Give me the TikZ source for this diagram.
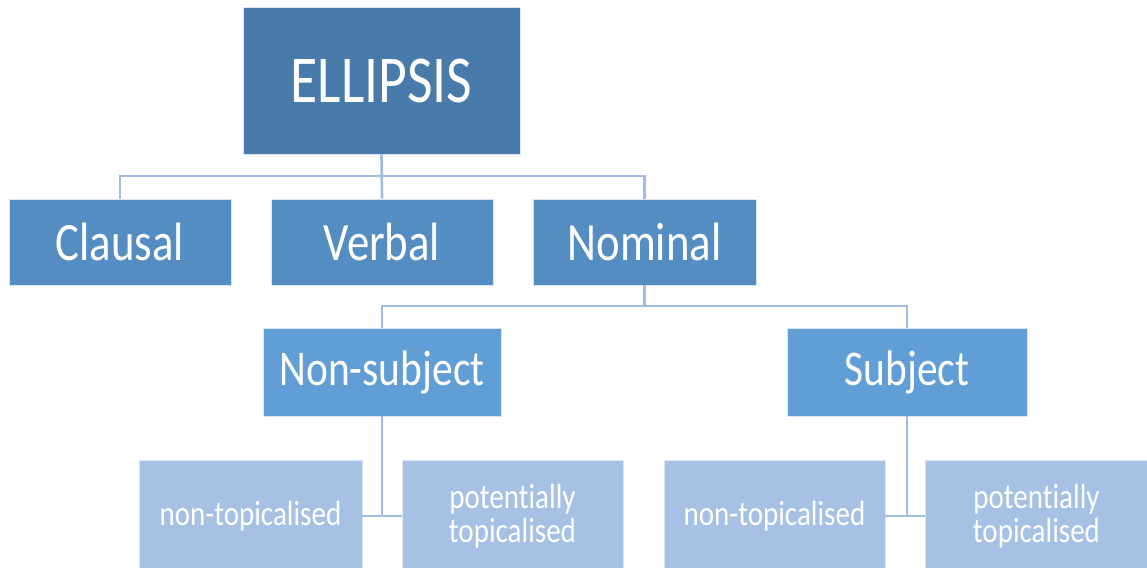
\documentclass[tikz,border=0pt]{standalone}
\usepackage{fontspec}
\setmainfont{Carlito}[FakeStretch=0.83, Ligatures={NoCommon}]
\definecolor{cA}{HTML}{487BA9}
\definecolor{cB}{HTML}{538DC2}
\definecolor{cC}{HTML}{629ED6}
\definecolor{cD}{HTML}{A6C1E4}
\definecolor{cL}{HTML}{9DBDE3}
\tikzset{
  box/.style={rectangle, inner sep=0pt, text=white, draw=white!60!cL, line width=0.8pt, align=center},
  lvlA/.style={box, fill=cA, font=\fontsize{67}{70}\selectfont},
  lvlB/.style={box, fill=cB, font=\fontsize{54}{58}\selectfont},
  lvlC/.style={box, fill=cC, font=\fontsize{50}{54}\selectfont},
  lvlD/.style={box, fill=cD, font=\fontsize{35}{34}\selectfont},
  conn/.style={draw=cL, line width=2.6pt},
}
\begin{document}
\begin{tikzpicture}[x=1pt, y=-1pt]
\useasboundingbox (0,0) rectangle (1147,567);
\clip (0,0) rectangle (1147,567);
\node[lvlA, minimum width=277pt, minimum height=147pt] (ell) at (381.5,80.5) {ELLIPSIS};
\node[lvlB, minimum width=222pt, minimum height=86pt] (cla) at (120,242) {Clausal};
\node[lvlB, minimum width=222pt, minimum height=86pt] (ver) at (382,242) {Verbal};
\node[lvlB, minimum width=223pt, minimum height=86pt] (nom) at (644.5,242) {Nominal};
\node[lvlC, minimum width=238pt, minimum height=88pt] (nsub) at (382,372) {Non-subject};
\node[lvlC, minimum width=240pt, minimum height=88pt] (sub) at (907,372) {Subject};
\node[lvlD, minimum width=223pt, minimum height=112pt] (nt1) at (250.5,516) {non-topicalised};
\node[lvlD, minimum width=221pt, minimum height=112pt] (pt1) at (512.5,516) {potent\kern0pt ially\\topicalised};
\node[lvlD, minimum width=221pt, minimum height=112pt] (nt2) at (774.5,516) {non-topicalised};
\node[lvlD, minimum width=223pt, minimum height=112pt] (pt2) at (1036.5,516) {potent\kern0pt ially\\topicalised};
\coordinate (b1) at (381.5,176);
\coordinate (b2) at (644.5,306);
\draw[conn] (ell.south) -- (ver.north);
\draw[conn] (cla.north) |- (b1) -| (nom.north);
\draw[conn] (nom.south) -- (b2);
\draw[conn] (nsub.north) |- (b2) -| (sub.north);
\coordinate (j1) at (nsub.south |- nt1.east);
\coordinate (j2) at (sub.south |- nt2.east);
\draw[conn] (nsub.south) -- (j1);
\draw[conn] (nt1.east) -- (pt1.west);
\draw[conn] (sub.south) -- (j2);
\draw[conn] (nt2.east) -- (pt2.west);
\end{tikzpicture}
\end{document}
